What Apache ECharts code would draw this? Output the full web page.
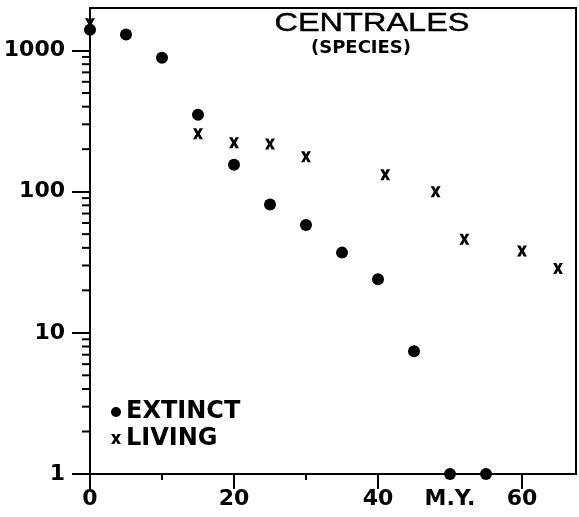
<!DOCTYPE html>
<html>
<head>
<meta charset="utf-8">
<script src="https://cdn.jsdelivr.net/npm/echarts@6/dist/echarts.min.js"></script>
<style>html,body{margin:0;padding:0;background:#fff;}#c{width:579px;height:517px;}</style>
</head>
<body>
<div id="c"></div>
<script>
var extinctYears  = [0, 5, 10, 15, 20, 25, 30, 35, 40, 45, 50, 55];
var extinctCounts = [1400, 1300, 890, 350, 155, 81, 58, 37, 24, 7.4, 1, 1];
var livingYears   = [0, 15, 20, 25, 30, 41, 48, 52, 60, 65];
var livingCounts  = [1550, 257, 222, 218, 177, 132, 100, 46, 38, 28.6];
var yMajorTicks = [1, 10, 100, 1000];
var yMinorTicks = [2,3,4,5,6,7,8,9,20,30,40,50,60,70,80,90,200,300,400,500,600,700,800,900];
var xMinorTicks = [0, 10, 20, 30, 40, 50, 60];
var xMajorTicks = [0, 20, 40, 60];
var xLabelValues = [0, 20, 40, 50, 60];
var xLabelText = {0:'0', 20:'20', 40:'40', 50:'M.Y.', 60:'60'};

function pairs(xs, ys){ return xs.map(function(x,i){ return [x, ys[i]]; }); }

var FONT = 'DejaVu Sans';
var xPath = 'path://M0,0 L3.4,0 L5,3 L6.6,0 L10,0 L6.8,5 L10,10 L6.6,10 L5,7 L3.4,10 L0,10 L3.2,5 Z';

var chart = echarts.init(document.getElementById('c'), null, {renderer:'canvas'});
chart.setOption({
  backgroundColor: '#fff',
  animation: false,
  grid: {left: 90, right: 3, top: 8, bottom: 43, show: true, borderColor: '#000', borderWidth: 2, backgroundColor: 'transparent'},
  graphic: [
    {type:'text', x: 372, y: 24, scaleX: 1.3, style:{text:'CENTRALES', font:'normal 25px "Liberation Sans"', fill:'#000', stroke:'#000', lineWidth:0.4, textAlign:'center', textVerticalAlign:'middle'}},
    {type:'text', x: 361, y: 48, style:{text:'(SPECIES)', font:'bold 18px "DejaVu Sans"', fill:'#000', textAlign:'center', textVerticalAlign:'middle'}}
  ],
  legend: {
    orient: 'vertical', left: 106, top: 395, itemGap: 3, itemWidth: 10, itemHeight: 10,
    textStyle: {fontFamily: FONT, fontWeight: 'bold', fontSize: 24, color: '#000'},
    data: [{name:'EXTINCT', icon:'circle'}, {name:'LIVING', icon: xPath}]
  },
  xAxis: [{
    type: 'value', min: 0, max: 67.5, interval: 10,
    axisLine: {show: true, lineStyle: {color:'#000', width: 2}},
    axisTick: {show: true, length: 6, customValues: xMinorTicks, lineStyle: {color:'#000', width: 2}},
    splitLine: {show: false},
    axisLabel: {margin: 14, color:'#000', fontFamily: FONT, fontWeight:'bold', fontSize: 22,
      customValues: xLabelValues,
      formatter: function(v){ return xLabelText[v] !== undefined ? xLabelText[v] : ''; }}
  }, {
    type: 'value', min: 0, max: 67.5, interval: 20, position: 'bottom',
    axisLine: {show: false},
    axisTick: {show: true, length: 15, customValues: xMajorTicks, lineStyle: {color:'#000', width: 2}},
    splitLine: {show: false},
    axisLabel: {show: false}
  }],
  yAxis: {
    type: 'log', logBase: 10, min: 1, max: 2000,
    axisLine: {show: true, lineStyle: {color:'#000', width: 2}},
    axisTick: {show: true, length: 18, customValues: yMajorTicks, lineStyle: {color:'#000', width: 2}},
    splitLine: {show: false},
    minorTick: {show: false},
    axisLabel: {margin: 25, color:'#000', fontFamily: FONT, fontWeight:'bold', fontSize: 22,
      customValues: yMajorTicks,
      formatter: function(v){ return String(Math.round(v)); }}
  },
  series: [
    {
      type: 'custom', name: 'minor', silent: true, xAxisIndex: 0,
      data: yMinorTicks.map(function(v){ return [0, v]; }),
      clip: false,
      renderItem: function(params, api){
        var p = api.coord([api.value(0), api.value(1)]);
        return {type:'line', shape:{x1:p[0]-8, y1:p[1], x2:p[0], y2:p[1]}, style:{stroke:'#000', lineWidth:2}};
      }
    },
    {
      type: 'scatter', name: 'LIVING', xAxisIndex: 0, symbol: xPath, symbolSize: [10, 11],
      itemStyle: {color:'#000', opacity: 1}, clip: false,
      data: pairs(livingYears, livingCounts)
    },
    {
      type: 'scatter', name: 'EXTINCT', xAxisIndex: 0, symbol: 'circle', symbolSize: 12,
      itemStyle: {color:'#000', opacity: 1}, clip: false,
      data: pairs(extinctYears, extinctCounts)
    }
  ]
});
</script>
</body>
</html>
